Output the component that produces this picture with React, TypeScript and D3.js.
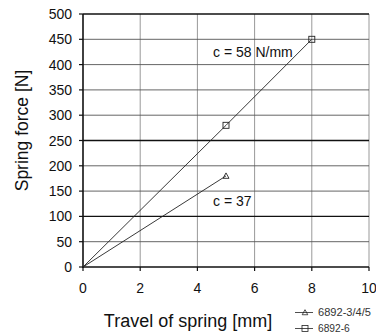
import React from "react";
import * as d3 from "d3";

const yTicks = [0, 50, 100, 150, 200, 250, 300, 350, 400, 450, 500];
const xTicks = [0, 2, 4, 6, 8, 10];
const seriesA = [{ x: 0, y: 0 }, { x: 5, y: 180 }];
const seriesB = [{ x: 0, y: 0 }, { x: 5, y: 280 }, { x: 8, y: 450 }];
const legendLabels = ["6892-3/4/5", "6892-6"];
const annotations = [
  { x: 5.0, y: 425, text: "c = 58 N/mm" },
  { x: 5.0, y: 130, text: "c = 37" },
];
const darkLines = [0, 100, 250, 500];

export default function App() {
  const W = 376, H = 333;
  const x = d3.scaleLinear().domain([0, 10]).range([83, 369]);
  const y = d3.scaleLinear().domain([0, 500]).range([267, 14]);
  const line = d3.line<{ x: number; y: number }>().x(d => x(d.x)).y(d => y(d.y));
  const font = "Liberation Sans, Arial, sans-serif";
  const tri = (cx: number, cy: number, s = 3) =>
    `M${cx},${cy - s} L${cx + s},${cy + s * 0.8} L${cx - s},${cy + s * 0.8} Z`;
  return (
    <svg width={W} height={H} style={{ position: "absolute", left: 0, top: 0, background: "#fff" }} fontFamily={font}>
      {xTicks.slice(1).map(t => (
        <line key={"vx" + t} x1={x(t)} x2={x(t)} y1={y(500)} y2={y(0)} stroke="#999" strokeWidth={1} />
      ))}
      {yTicks.map(t => (
        <line key={"hy" + t} x1={x(0)} x2={x(10)} y1={y(t)} y2={y(t)}
          stroke={darkLines.includes(t) ? "#111" : "#555"} strokeWidth={darkLines.includes(t) ? 1.4 : 0.9} />
      ))}
      <line x1={x(0)} x2={x(0)} y1={y(500)} y2={y(0) + 1} stroke="#111" strokeWidth={1.6} />
      {yTicks.map(t => (
        <g key={"yt" + t}>
          <line x1={x(0) - 4} x2={x(0)} y1={y(t)} y2={y(t)} stroke="#111" strokeWidth={1.2} />
          <text x={x(0) - 11} y={y(t)} dy="0.36em" textAnchor="end" fontSize={14} fill="#111">{t}</text>
        </g>
      ))}
      {xTicks.map(t => (
        <g key={"xt" + t}>
          <line x1={x(t)} x2={x(t)} y1={y(0)} y2={y(0) + 4} stroke="#111" strokeWidth={1.2} />
          <text x={x(t)} y={y(0) + 26} textAnchor="middle" fontSize={14} fill="#111">{t}</text>
        </g>
      ))}
      <path d={line(seriesB) || ""} fill="none" stroke="#222" strokeWidth={0.9} />
      <path d={line(seriesA) || ""} fill="none" stroke="#222" strokeWidth={0.9} />
      {seriesB.slice(1).map((d, i) => (
        <rect key={"sb" + i} x={x(d.x) - 3} y={y(d.y) - 3} width={6} height={6} fill="none" stroke="#222" strokeWidth={0.9} />
      ))}
      {seriesA.slice(1).map((d, i) => (
        <path key={"sa" + i} d={tri(x(d.x), y(d.y))} fill="none" stroke="#222" strokeWidth={0.9} />
      ))}
      {annotations.map((a, i) => (
        <text key={"an" + i} x={x(a.x) - 13} y={y(a.y)} dy="0.36em" fontSize={14} fill="#111">{a.text}</text>
      ))}
      <text transform={`translate(28,130.5) rotate(-90)`} textAnchor="middle" fontSize={17.5} fill="#111">Spring force [N]</text>
      <text x={188} y={327} textAnchor="middle" fontSize={18} fill="#111">Travel of spring [mm]</text>
      {legendLabels.map((l, i) => {
        const ly = 312.5 + i * 16;
        return (
          <g key={"lg" + i}>
            <line x1={295} x2={313} y1={ly} y2={ly} stroke="#222" strokeWidth={0.8} />
            {i === 0 ? (
              <path d={tri(305, ly, 2.8)} fill="none" stroke="#222" strokeWidth={0.8} />
            ) : (
              <rect x={302} y={ly - 3} width={6} height={6} fill="none" stroke="#222" strokeWidth={0.8} />
            )}
            <text x={318} y={ly} dy="0.36em" fontSize={10} textLength={l.length * 5.3} lengthAdjust="spacingAndGlyphs" fill="#333">{l}</text>
          </g>
        );
      })}
    </svg>
  );
}
